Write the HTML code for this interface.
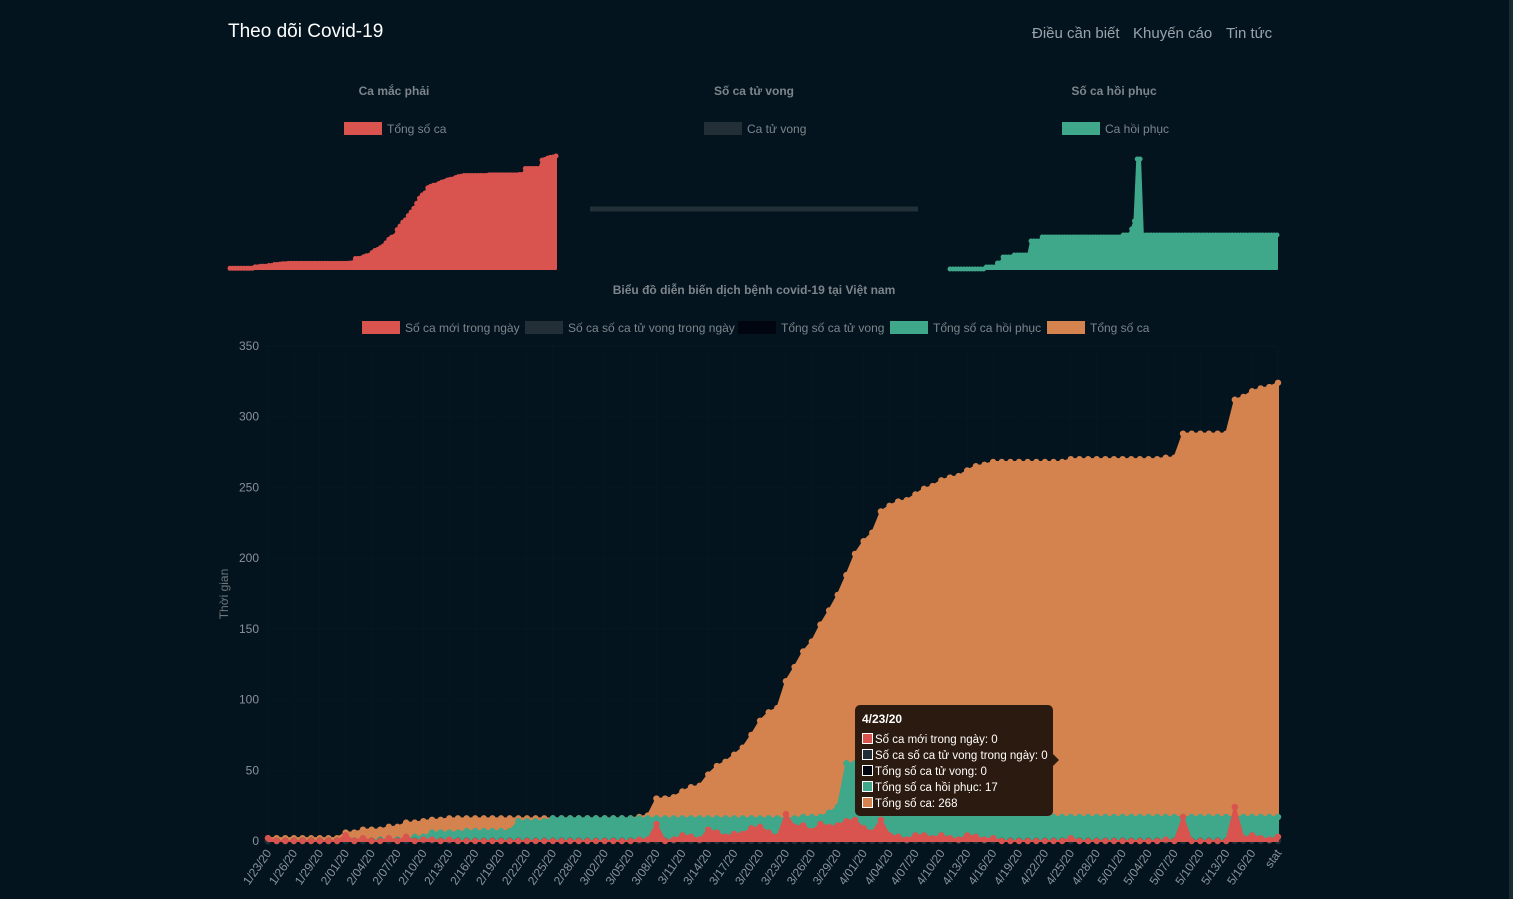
<!DOCTYPE html>
<html><head><meta charset="utf-8">
<style>
html,body{margin:0;padding:0;width:1513px;height:899px;overflow:hidden;background:#03141f;}
body{font-family:"Liberation Sans Narrow","Liberation Sans",sans-serif;}
svg{position:absolute;left:0;top:0;}
</style></head>
<body>
<svg id="s" width="1513" height="899" xmlns="http://www.w3.org/2000/svg">
<rect x="0" y="0" width="1513" height="899" fill="#03141f"/>
<rect x="1509" y="0" width="4" height="899" fill="#1a2a33"/>
<text x="228" y="37" fill="#ffffff" font-size="19">Theo dõi Covid-19</text>
<text x="1032" y="38" fill="#9aa3a9" font-size="15">Điều cần biết</text>
<text x="1133" y="38" fill="#9aa3a9" font-size="15">Khuyến cáo</text>
<text x="1226" y="38" fill="#9aa3a9" font-size="15">Tin tức</text>
<g id="topg"></g>
<g id="main"></g>
</svg>
<script>
const N = 118;
const days = [];
for (let i=0;i<N;i++){ const d=new Date(2020,0,23+i); days.push((d.getMonth()+1)+'/'+String(d.getDate()).padStart(2,'0')+'/20'); }
days[N-1]='stat';
const totalCases = [2,2,2,2,2,2,2,2,2,6,6,8,8,8,10,10,13,13,14,15,15,16,16,16,16,16,16,16,16,16,16,16,16,16,16,16,16,16,16,16,16,16,16,17,18,30,30,31,35,38,39,47,53,56,61,66,75,85,91,94,113,123,134,141,153,163,174,188,203,212,218,233,237,240,241,245,249,251,255,257,258,262,265,266,268,268,268,268,268,268,268,268,268,270,270,270,270,270,270,270,270,270,270,270,271,271,288,288,288,288,288,288,312,314,318,320,321,324];
const recovered = [0,0,0,0,0,0,0,0,0,0,0,0,0,1,1,1,1,3,3,6,6,6,6,7,7,7,7,7,7,14,14,14,14,16,16,16,16,16,16,16,16,16,16,16,16,16,16,16,16,16,16,16,16,16,16,16,16,16,16,16,16,16,17,17,17,20,24,55,55,17,17,17,17,17,17,17,17,17,17,17,17,17,17,17,17,17,17,17,17,17,17,17,17,17,17,17,17,17,17,17,17,17,17,17,17,17,17,17,17,17,17,17,17,17,17,17,17,17];
const newDaily = [2,0,0,0,0,0,0,0,0,4,0,2,0,0,2,0,3,0,1,1,0,1,0,0,0,0,0,0,0,0,0,0,0,0,0,0,0,0,0,0,0,0,0,1,1,12,0,1,4,3,1,8,6,3,5,5,9,10,6,3,19,10,11,7,12,10,11,14,15,9,6,15,4,3,1,4,4,2,4,2,1,4,3,1,2,0,0,0,0,0,0,0,0,2,0,0,0,0,0,0,0,0,0,0,1,0,17,0,0,0,0,0,24,2,4,2,1,3];
const deathsDaily = new Array(N).fill(0);
const deathsTotal = new Array(N).fill(0);
const yTicks = [0,50,100,150,200,250,300,350];

const NS='http://www.w3.org/2000/svg';
function el(tag, attrs, parent){ const e=document.createElementNS(NS,tag); for(const k in attrs) e.setAttribute(k,attrs[k]); parent.appendChild(e); return e; }

const X0=268, X1=1278, Y0=841, Y1=346, YMAX=350;
const xAt = i => X0 + i*(X1-X0)/(N-1);
const yAt = v => Y0 - v*(Y0-Y1)/YMAX;
const mainG=document.getElementById('main');

for (let i=0;i<N;i+=3){
  const g=el('line',{x1:xAt(i),x2:xAt(i),y1:Y1,y2:Y0+4,stroke:'#06171f','stroke-width':1},mainG);
  
  
}
yTicks.forEach(t=>{
  const g=el('line',{x1:X0-4,x2:X1,y1:yAt(t),y2:yAt(t),stroke:'#06171f','stroke-width':1},mainG);
  
  
  const tx=el('text',{x:259,y:yAt(t)+4,fill:'#8a9299','font-size':12,'text-anchor':'end'},mainG);
  tx.textContent=t;
  
  
});
for (let i=0;i<N;i+=3){
  if(i>114) continue;
  const tx=el('text',{x:xAt(i)+4,y:853,fill:'#8a9299','font-size':12,'text-anchor':'end',transform:`rotate(-55 ${xAt(i)+4} 853)`},mainG);
  tx.textContent=days[i];
  
  
}
{
  const i=N-1;
  const tx=el('text',{x:xAt(i)+4,y:853,fill:'#8a9299','font-size':12,'text-anchor':'end',transform:`rotate(-55 ${xAt(i)+4} 853)`},mainG);
  tx.textContent=days[i];
  
  
}
const yt=el('text',{x:228,y:594,fill:'#6f777d','font-size':12,'text-anchor':'middle',transform:'rotate(-90 228 594)'},mainG);
yt.textContent='Thời gian';



function series(data, fill, stroke, name, g, xf, yf, r){
  let d=`M${xf(0)},${yf(0)}`;
  data.forEach((v,i)=>{ d+=` L${xf(i)},${yf(v)}`; });
  d+=` L${xf(data.length-1)},${yf(0)} Z`;
  const p=el('path',{d:d,fill:fill,stroke:stroke,'stroke-width':2,'stroke-linejoin':'round'},g);
  
  
  data.forEach((v,i)=>{
    const c=el('circle',{cx:xf(i),cy:yf(v),r:r,fill:stroke},g);
    
    
  });
}
series(totalCases,'#d4824e','#d4824e','total-cases',mainG,xAt,yAt,3.2);
series(recovered,'#3fa88b','#3fa88b','total-recovered',mainG,xAt,yAt,3.2);
series(deathsTotal,'#010510','#010510','total-deaths',mainG,xAt,yAt,3.2);
series(deathsDaily,'#222f36','#222f36','daily-deaths',mainG,xAt,yAt,3.2);
series(newDaily,'#d9534f','#d9534f','daily-new-cases',mainG,xAt,yAt,3.2);

const mt=el('text',{x:754,y:294,fill:'#7d858b','font-size':12,'font-weight':'bold','text-anchor':'middle'},mainG);
mt.textContent='Biểu đồ diễn biến dịch bệnh covid-19 tại Việt nam';


const legendNames=['Số ca mới trong ngày','Số ca số ca tử vong trong ngày','Tổng số ca tử vong','Tổng số ca hồi phục','Tổng số ca'];
const legendColors=['#d9534f','#222f36','#010510','#3fa88b','#d4824e'];
const legendX=[362,525,738,890,1047];
legendNames.forEach((n,k)=>{
  const r=el('rect',{x:legendX[k],y:321,width:38,height:13,fill:legendColors[k]},mainG);
  
  
  const t=el('text',{x:legendX[k]+43,y:332,fill:'#7d858b','font-size':12},mainG);
  t.textContent=n;
  
  
});

const tg=el('g',{},mainG);


el('rect',{x:855,y:705,width:198,height:111,rx:5,fill:'#2b1a0f'},tg);
el('path',{d:'M1053,754 L1059,760 L1053,766 Z',fill:'#2b1a0f'},tg);
const tt=el('text',{x:862,y:723,fill:'#fff','font-size':12,'font-weight':'bold'},tg);
tt.textContent='4/23/20';
const tipLines=['Số ca mới trong ngày: 0','Số ca số ca tử vong trong ngày: 0','Tổng số ca tử vong: 0','Tổng số ca hồi phục: 17','Tổng số ca: 268'];
tipLines.forEach((s,k)=>{
  el('rect',{x:862.5,y:733.5+k*16,width:10,height:10,fill:legendColors[k],stroke:'#fff','stroke-width':1},tg);
  const t=el('text',{x:875,y:743+k*16,fill:'#fff','font-size':11.5},tg);
  t.textContent=s;
});

const topG=document.getElementById('topg');
function smallChart(cx, title, legend, color, lx){
  const t=el('text',{x:cx,y:95,fill:'#7d858b','font-size':12,'font-weight':'bold','text-anchor':'middle'},topG);
  t.textContent=title;
  
  
  const r=el('rect',{x:lx,y:122,width:38,height:13,fill:color},topG);
  
  
  const l=el('text',{x:lx+43,y:133,fill:'#7d858b','font-size':12},topG);
  l.textContent=legend;
  
  
}
smallChart(394,'Ca mắc phải','Tổng số ca','#d9534f',344);
smallChart(754,'Số ca tử vong','Ca tử vong','#222f36',704);
smallChart(1114,'Số ca hồi phục','Ca hồi phục','#3fa88b',1062);
const sx1 = i => 230 + i*(556-230)/(N-1);
const sy1 = v => 269 - v*(269-156)/324;
series(totalCases,'#d9534f','#d9534f','small-cases',topG,sx1,sy1,2.5);
const sx2 = i => 590 + i*(918-590)/(N-1);
const sy2 = v => 209 - v*2;
let dd=`M${sx2(0)},${sy2(deathsTotal[0])}`; deathsTotal.forEach((v,i)=>{dd+=` L${sx2(i)},${sy2(v)}`;});
const dl=el('path',{d:dd,fill:'none',stroke:'#222f36','stroke-width':5},topG);


const sx3 = i => 950 + i*(1277-950)/(N-1);
const sy3 = v => 269 - v*(269-159)/55;
series(recovered,'#3fa88b','#3fa88b','small-recovered',topG,sx3,sy3,2.5);
</script>
</body></html>
